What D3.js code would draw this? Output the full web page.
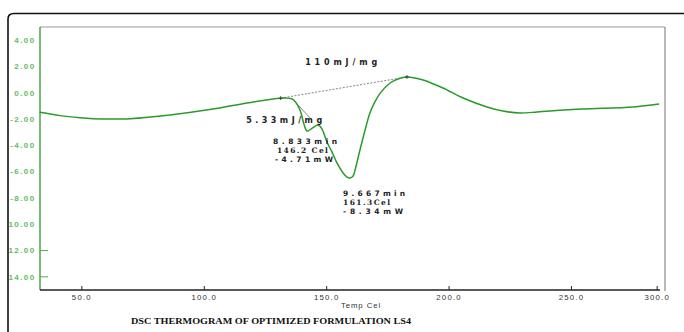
<!DOCTYPE html>
<html>
<head>
<meta charset="utf-8">
<script src="https://cdn.jsdelivr.net/npm/d3@7"></script>
<style>
  html, body { margin: 0; padding: 0; background: #fff; }
  svg { display: block; }
</style>
</head>
<body>
<svg id="chart" width="684" height="332"></svg>
<script>
// ---- data ----
const temps = [32.9, 41.1, 49.2, 54.6, 62.0, 69.7, 86.0, 103.6, 117.5, 131.2, 136.2, 139.1, 140.7, 142.0, 143.6, 146.5, 148.1, 150.1, 152.2, 154.2, 156.7, 158.3, 159.5, 160.8, 161.6, 163.6, 165.7, 167.7, 169.7, 171.8, 175.9, 179.1, 182.8, 186.1, 189.4, 197.5, 205.7, 215.5, 222.0, 229.0, 235.9, 241.2, 254.7, 275.1, 285.8];
const heatFlow = [-1.49, -1.74, -1.90, -1.97, -2.0, -1.97, -1.69, -1.24, -0.78, -0.41, -0.51, -1.31, -2.38, -2.91, -2.76, -2.45, -2.76, -3.75, -4.51, -5.34, -6.10, -6.41, -6.48, -6.33, -5.87, -4.35, -2.83, -1.52, -0.70, -0.05, 0.74, 1.05, 1.20, 1.12, 0.97, 0.36, -0.40, -1.08, -1.39, -1.54, -1.46, -1.39, -1.24, -1.08, -0.86];
const yTickValues = [4, 2, 0, -2, -4, -6, -8, -10, -12, -14];
const yTickLabels = ["4.00", "2.00", "0.00", "-2.00", "-4.00", "-6.00", "-8.00", "-10.00", "-12.00", "-14.00"];
const xTickValues = [50, 100, 150, 200, 250, 285];
const xTickLabels = ["50.0", "100.0", "150.0", "200.0", "250.0", "300.0"];
const baselineTemps = [131.2, 182.8];
const baselineFlow = [-0.41, 1.20];
const shoulderTemps = [136.2, 144.0];
const shoulderFlow = [-0.51, -2.07];
const xTitle = "Temp Cel";
const chartTitle = "DSC THERMOGRAM OF OPTIMIZED FORMULATION LS4";

// ---- layout ----
const svg = d3.select("#chart");
const L = 40, R = 665, T = 27, B = 290;
const x = d3.scaleLinear().domain([32.9, 288.2]).range([L, R]);
const y = d3.scaleLinear().domain([-15, 5]).range([B, T]);

// outer frame (rounded corner)
svg.append("path")
  .attr("d", "M8,340 L8,19 Q8,13.5 14,13.5 L684,13.5")
  .attr("fill", "none").attr("stroke", "#111").attr("stroke-width", 1.6);

// plot borders
svg.append("line").attr("x1", L).attr("x2", R).attr("y1", T).attr("y2", T)
  .attr("stroke", "#9a9a9a").attr("stroke-width", 1);
svg.append("line").attr("x1", R).attr("x2", R).attr("y1", T).attr("y2", B + 1)
  .attr("stroke", "#8a8a8a").attr("stroke-width", 1.2);

// clip for y labels at frame
svg.append("clipPath").attr("id", "yclip")
  .append("rect").attr("x", 9).attr("y", 0).attr("width", 40).attr("height", 332);

// y axis
const yAxisG = svg.append("g").attr("clip-path", "url(#yclip)");
yAxisG.append("line").attr("x1", L).attr("x2", L).attr("y1", T).attr("y2", B)
  .attr("stroke", "#2a9a2a").attr("stroke-width", 1.3);
yAxisG.selectAll("text.yl").data(yTickValues).enter().append("text")
  .attr("class", "yl")
  .attr("x", 35.5).attr("y", d => y(d) + 2.8)
  .attr("text-anchor", "end")
  .attr("font-family", "Liberation Sans, Arial, sans-serif")
  .attr("font-size", 8).attr("font-weight", "bold")
  .attr("letter-spacing", 1.4)
  .attr("fill", "#62bb62")
  .text((d, i) => yTickLabels[i]);
yAxisG.selectAll("line.yt").data(yTickValues.filter(d => d <= -12)).enter().append("line")
  .attr("class", "yt")
  .attr("x1", L).attr("x2", L + 8).attr("y1", d => y(d)).attr("y2", d => y(d))
  .attr("stroke", "#4caf4c").attr("stroke-width", 1);

// x axis
svg.append("line").attr("x1", L).attr("x2", 660).attr("y1", B).attr("y2", B)
  .attr("stroke", "#222").attr("stroke-width", 1.3);
svg.selectAll("line.xt").data(xTickValues).enter().append("line")
  .attr("class", "xt")
  .attr("x1", d => x(d)).attr("x2", d => x(d)).attr("y1", B).attr("y2", B - 4)
  .attr("stroke", "#222").attr("stroke-width", 1);
svg.selectAll("text.xl").data(xTickValues).enter().append("text")
  .attr("class", "xl")
  .attr("x", d => x(d)).attr("y", 299.5)
  .attr("text-anchor", "middle")
  .attr("font-family", "Liberation Sans, Arial, sans-serif")
  .attr("font-size", 7.8)
  .attr("letter-spacing", 1.2)
  .attr("fill", "#333")
  .text((d, i) => xTickLabels[i]);
svg.append("text").attr("x", 361).attr("y", 307.5)
  .attr("text-anchor", "middle")
  .attr("font-family", "Liberation Sans, Arial, sans-serif")
  .attr("font-size", 7.8).attr("letter-spacing", 0.9).attr("fill", "#333")
  .text(xTitle);

// chart title
svg.append("text").attr("x", 131).attr("y", 323.5)
  .attr("font-family", "Liberation Serif, Times New Roman, serif")
  .attr("font-size", 9).attr("font-weight", "bold").attr("fill", "#111")
  .attr("textLength", 280).attr("lengthAdjust", "spacingAndGlyphs")
  .text(chartTitle);

// baseline (dotted) and shoulder line
svg.append("line")
  .attr("x1", x(baselineTemps[0])).attr("y1", y(baselineFlow[0]))
  .attr("x2", x(baselineTemps[1])).attr("y2", y(baselineFlow[1]))
  .attr("stroke", "#777").attr("stroke-width", 0.9).attr("stroke-dasharray", "2,1.5");
svg.append("line")
  .attr("x1", x(shoulderTemps[0])).attr("y1", y(shoulderFlow[0]))
  .attr("x2", x(shoulderTemps[1])).attr("y2", y(shoulderFlow[1]))
  .attr("stroke", "#666").attr("stroke-width", 0.8);

// curve
const pts = temps.map((t, i) => [t, heatFlow[i]]);
svg.append("path")
  .datum(pts)
  .attr("fill", "none")
  .attr("stroke", "#2a9a2a")
  .attr("stroke-width", 1.5)
  .attr("d", d3.line().x(d => x(d[0])).y(d => y(d[1])).curve(d3.curveCatmullRom.alpha(0.5)));

// small markers at baseline ends
baselineTemps.forEach((t, i) => {
  const cx = x(t), cy = y(baselineFlow[i]);
  svg.append("line").attr("x1", cx).attr("x2", cx).attr("y1", cy - 2).attr("y2", cy + 2)
    .attr("stroke", "#333").attr("stroke-width", 0.8);
  svg.append("line").attr("x1", cx - 2).attr("x2", cx + 2).attr("y1", cy).attr("y2", cy)
    .attr("stroke", "#333").attr("stroke-width", 0.8);
});

// annotations (anchored in data units)
const sans = "DejaVu Sans, Verdana, sans-serif";
const serif = "DejaVu Serif, Liberation Serif, serif";
const ann = [
  {t: "110mJ/mg", tx: 141.2, fy: 2.11, w: 72, fs: 8, f: sans},
  {t: "5.33mJ/mg", tx: 117.1, fy: -2.30, w: 76, fs: 8, f: sans},
  {t: "8.833min", tx: 128.1, fy: -3.90, w: 64, fs: 7.5, f: sans},
  {t: "146.2 Cel", tx: 129.7, fy: -4.58, w: 51, fs: 7.5, f: serif},
  {t: "-4.71mW", tx: 128.9, fy: -5.27, w: 58, fs: 7.5, f: sans},
  {t: "9.667min", tx: 156.7, fy: -7.86, w: 62, fs: 7.5, f: sans},
  {t: "161.3Cel", tx: 156.7, fy: -8.54, w: 47, fs: 7.5, f: serif},
  {t: "-8.34mW", tx: 156.7, fy: -9.23, w: 60, fs: 7.5, f: sans}
];
svg.selectAll("text.ann").data(ann).enter().append("text")
  .attr("class", "ann")
  .attr("x", d => x(d.tx)).attr("y", d => y(d.fy))
  .attr("font-family", d => d.f)
  .attr("font-size", d => d.fs).attr("font-weight", "bold")
  .attr("fill", "#222")
  .attr("textLength", d => d.w).attr("lengthAdjust", "spacing")
  .text(d => d.t);
</script>
</body>
</html>
